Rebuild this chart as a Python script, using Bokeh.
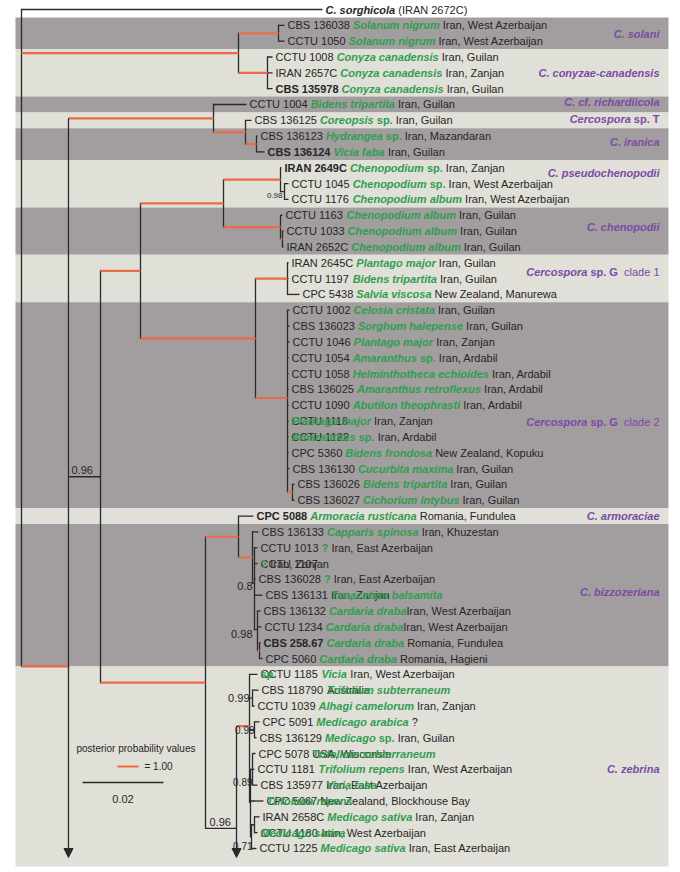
from bokeh.plotting import figure
from bokeh.models import Range1d, ColumnDataSource, Arrow, NormalHead
from bokeh.embed import file_html
from bokeh.resources import INLINE
from bokeh.core.properties import value

# ---------------- data ----------------
outgroup_name = "C. sorghicola"
outgroup_strain = "(IRAN 2672C)"

strains = ["CBS 136038", "CCTU 1050", "CCTU 1008", "IRAN 2657C", "CBS 135978", "CCTU 1004",
           "CBS 136125", "CBS 136123", "CBS 136124", "IRAN 2649C", "CCTU 1045", "CCTU 1176",
           "CCTU 1163", "CCTU 1033", "IRAN 2652C", "IRAN 2645C", "CCTU 1197", "CPC 5438",
           "CCTU 1002", "CBS 136023", "CCTU 1046", "CCTU 1054", "CCTU 1058", "CBS 136025",
           "CCTU 1090", "CCTU 1116", "CCTU 1122", "CPC 5360", "CBS 136130", "CBS 136026",
           "CBS 136027", "CPC 5088", "CBS 136133", "CCTU 1013", "CCTU 1107", "CBS 136028",
           "CBS 136131", "CBS 136132", "CCTU 1234", "CBS 258.67", "CPC 5060", "CCTU 1185",
           "CBS 118790", "CCTU 1039", "CPC 5091", "CBS 136129", "CPC 5078", "CCTU 1181",
           "CBS 135977", "CPC 5067", "IRAN 2658C", "CCTU 1180", "CCTU 1225"]
hosts = ["Solanum nigrum", "Solanum nigrum", "Conyza canadensis", "Conyza canadensis",
         "Conyza canadensis", "Bidens tripartita", "Coreopsis sp.", "Hydrangea sp.", "Vicia faba",
         "Chenopodium sp.", "Chenopodium sp.", "Chenopodium album", "Chenopodium album",
         "Chenopodium album", "Chenopodium album", "Plantago major", "Bidens tripartita",
         "Salvia viscosa", "Celosia cristata", "Sorghum halepense", "Plantago major",
         "Amaranthus sp.", "Helminthotheca echioides", "Amaranthus retroflexus",
         "Abutilon theophrasti", "Plantago major", "Amaranthus sp.", "Bidens frondosa",
         "Cucurbita maxima", "Bidens tripartita", "Cichorium intybus", "Armoracia rusticana",
         "Capparis spinosa", "?", "?", "?", "Tanacetum balsamita", "Cardaria draba",
         "Cardaria draba", "Cardaria draba", "Cardaria draba", "Vicia sp.",
         "Trifolium subterraneum", "Alhagi camelorum", "Medicago arabica", "Medicago sp.",
         "Trifolium subterraneum", "Trifolium repens", "Vicia faba", "Trifolium repens",
         "Medicago sativa", "Medicago sativa", "Medicago sativa"]
places = ["Iran, West Azerbaijan", "Iran, West Azerbaijan", "Iran, Guilan", "Iran, Zanjan",
          "Iran, Guilan", "Iran, Guilan", "Iran, Guilan", "Iran, Mazandaran", "Iran, Guilan",
          "Iran, Zanjan", "Iran, West Azerbaijan", "Iran, West Azerbaijan", "Iran, Guilan",
          "Iran, Guilan", "Iran, Guilan", "Iran, Guilan", "Iran, Guilan", "New Zealand, Manurewa",
          "Iran, Guilan", "Iran, Guilan", "Iran, Zanjan", "Iran, Ardabil", "Iran, Ardabil",
          "Iran, Ardabil", "Iran, Ardabil", "Iran, Zanjan", "Iran, Ardabil", "New Zealand, Kopuku",
          "Iran, Guilan", "Iran, Guilan", "Iran, Guilan", "Romania, Fundulea", "Iran, Khuzestan",
          "Iran, East Azerbaijan", "Iran, Zanjan", "Iran, East Azerbaijan", "Iran, Zanjan",
          "Iran, West Azerbaijan", "Iran, West Azerbaijan", "Romania, Fundulea",
          "Romania, Hagieni", "Iran, West Azerbaijan", "Australia", "Iran, Zanjan", "?",
          "Iran, Guilan", "USA, Wisconsin", "Iran, West Azerbaijan", "Iran, East Azerbaijan",
          "New Zealand, Blockhouse Bay", "Iran, Zanjan", "Iran, West Azerbaijan",
          "Iran, East Azerbaijan"]
bold_strains = ["CBS 135978", "CBS 136124", "IRAN 2649C", "CPC 5088", "CBS 258.67"]

# tip depths (substitutions/site) of row 0 (outgroup) .. row 53
tip_depth = [0.07432,
             0.06494, 0.06494, 0.06198, 0.06198, 0.06198, 0.05556, 0.05679, 0.05827, 0.06000,
             0.06420, 0.06593, 0.06593, 0.06444, 0.06469, 0.06469, 0.06593, 0.06593, 0.06864,
             0.06617, 0.06617, 0.06617, 0.06593, 0.06593, 0.06593, 0.06593, 0.06593, 0.06593,
             0.06593, 0.06617, 0.06741, 0.06741, 0.05728, 0.05852, 0.05827, 0.05827, 0.05778,
             0.05951, 0.05901, 0.05926, 0.05901, 0.05951, 0.05827, 0.05852, 0.05753, 0.05877,
             0.05802, 0.05778, 0.05753, 0.05827, 0.05975, 0.05877, 0.05827, 0.05802]

node_names = ["root", "SC", "SOL", "CON", "A", "B", "C", "D", "E", "F", "G", "H", "I", "J", "K",
              "L", "M", "N", "O", "P", "Q", "R", "S", "T", "U", "W", "X", "Y", "Z", "MZ", "Z2",
              "G2", "G2in"]
node_depth = [0.0, 0.05358, 0.06346, 0.06074, 0.01160, 0.04741, 0.05531, 0.05802, 0.01951,
              0.02938, 0.04988, 0.06395, 0.06494, 0.06395, 0.06444, 0.05778, 0.06568, 0.06568,
              0.06691, 0.04543, 0.05358, 0.05704, 0.05753, 0.05827, 0.05877, 0.05309, 0.05630,
              0.05704, 0.05753, 0.05654, 0.05704, 0.05679, 0.05753]
node_children = [[0, "SC", "A"], ["SOL", "CON"], [1, 2], [3, 4, 5], ["B", "E", "offA"],
                 [6, "C"], [7, "D"], [8, 9], ["F", "P"], ["G", "L"], ["H", "J"], [10, "I"],
                 [11, 12], [13, "K"], [14, 15], ["M", "N"], [16, 17, 18],
                 [19, 20, 21, 22, 23, 24, 25, 26, 27, 28, 29, "O"], [30, 31], ["Q", "W"],
                 [32, "R"], [33, "S"], [34, 35, 36, 37, "T"], [38, 39, "U"], [40, 41],
                 ["X", "offW"], [42, "Y", "Z", "MZ"], [43, 44], [45, 46], ["Z2", 50, "G2"],
                 [47, 48, 49], ["G2in", 53], [51, 52]]
# posterior probabilities of the clades (1.00 drawn in red)
posterior = {"SC": 1.0, "SOL": 1.0, "CON": 1.0, "A": 1.0, "B": 1.0, "C": 1.0, "D": 1.0,
             "E": 0.96, "F": 1.0, "G": 1.0, "H": 1.0, "I": 0.98, "J": 1.0, "K": 1.0, "L": 1.0,
             "M": 1.0, "N": 1.0, "O": 1.0, "P": 1.0, "Q": 1.0, "R": 1.0, "S": 0.8, "T": 0.98,
             "U": 1.0, "W": 0.96, "X": 1.0, "Y": 0.99, "Z": 0.99, "Z2": 0.89, "G2": 0.71}
# continuation of the tree below the page (rows off the picture)
offpage_rows = {"offA": 88.1, "offW": 58.2}

clade_names = ["C. solani", "C. conyzae-canadensis", "C. cf. richardiicola", "Cercospora sp. T",
               "C. iranica", "C. pseudochenopodii", "C. chenopodii", "Cercospora sp. G clade 1",
               "Cercospora sp. G clade 2", "C. armoraciae", "C. bizzozeriana", "C. zebrina"]
clade_first = [1, 3, 6, 7, 8, 10, 13, 16, 19, 32, 33, 42]
clade_last = [2, 5, 6, 7, 9, 12, 15, 18, 31, 32, 41, 53]
scale_length = 0.02
legend_pp = "= 1.00"

# ---------------- layout / style ----------------
PX = 4050.0      # px per substitution unit
ROW = 15.83      # px per row
ROOT_X = 21.0
TOP_Y = 9.0
def dx(px): return (px - ROOT_X) / PX
def ry(py): return (py - TOP_Y) / ROW

FONT = "Liberation Sans"
DARK = "#262626"
GREEN = "#2f9e4f"
PURPLE = "#7b4aa6"
RED = "#ec6a45"
LINE = "#2a2a2a"
BAND_DARK = "#a29d9e"
BAND_LIGHT = "#e0dfd8"

label_style = {26: "host_on_strain", 27: "host_on_strain", 35: "host_on_strain",
               37: "place_on_host", 38: "tight", 39: "tight", 42: "split_sp",
               43: "place_on_host", 47: "place_on_host", 49: "place_on_host",
               50: "host_on_strain2", 52: "host_on_strain2"}
clade_label_rows = [1.52, 3.98, 5.85, 6.89, 8.34, 10.3, 13.77, 16.6, 26.03, 32.0, 36.8, 47.95]
support_pos = {  # kind, dx px, dy px, font size
    "E": ("above", 3, -7, 11), "W": ("above", 4, -6, 11),
    "I": ("left", -2, 4, 8), "S": ("left", -2, 3, 11), "T": ("left", -5, 4, 11),
    "Y": ("left", -3, 0, 11), "Z": ("left", 0, 0, 10), "Z2": ("left", 0, 13, 10),
    "G2": ("left", 1, 9, 10)}

REG = dict(zip("abcdefghijklmnopqrstuvwxyz",
               [556, 556, 500, 556, 556, 278, 556, 556, 222, 222, 500, 222, 833, 556, 556, 556,
                556, 333, 500, 278, 556, 500, 722, 500, 500, 500]))
REG.update(zip("ABCDEFGHIJKLMNOPQRSTUVWXYZ",
               [667, 667, 722, 722, 667, 611, 778, 722, 278, 500, 667, 556, 833, 722, 778, 667,
                778, 722, 667, 611, 722, 667, 944, 667, 667, 611]))
REG.update({c: 556 for c in "0123456789"})
REG.update({" ": 278, ".": 278, ",": 278, "?": 556, "(": 333, ")": 333, "-": 333, "=": 584})
BLD = dict(zip("abcdefghijklmnopqrstuvwxyz",
               [556, 611, 556, 611, 556, 333, 611, 611, 278, 278, 556, 278, 889, 611, 611, 611,
                611, 389, 556, 333, 611, 556, 778, 556, 556, 500]))
BLD.update(zip("ABCDEFGHIJKLMNOPQRSTUVWXYZ",
               [722, 722, 722, 722, 667, 611, 778, 722, 278, 556, 722, 611, 833, 722, 778, 667,
                778, 722, 667, 611, 722, 667, 944, 667, 667, 611]))
BLD.update({c: 556 for c in "0123456789"})
BLD.update({" ": 278, ".": 278, ",": 278, "?": 611, "(": 333, ")": 333, "-": 333, "=": 584})

STYLES = {"n": (DARK, "normal"), "b": (DARK, "bold"), "bi": (DARK, "bold italic"),
          "gi": (GREEN, "bold italic"), "g": (GREEN, "bold"), "pi": (PURPLE, "bold italic"),
          "pb": (PURPLE, "bold"), "pn": (PURPLE, "normal")}

def tw(s, style="n", size=11):
    tab = REG if STYLES[style][1] == "normal" else BLD
    return sum(tab.get(c, 556) for c in s) * size / 1000.0

texts = {k: dict(x=[], y=[], text=[], size=[]) for k in STYLES}
def put(style, x, y, s, size=11):
    texts[style]["x"].append(x)
    texts[style]["y"].append(y)
    texts[style]["text"].append(s)
    texts[style]["size"].append("%gpx" % size)

# ---------------- tree geometry ----------------
nodes = {n: (d, c) for n, d, c in zip(node_names, node_depth, node_children)}
_yc = {}
def node_y(c):
    if isinstance(c, int):
        return float(c)
    if c in offpage_rows:
        return offpage_rows[c]
    if c not in _yc:
        ch = nodes[c][1]
        _yc[c] = sum(node_y(k) for k in ch) / len(ch)
    return _yc[c]
def depth_of(c):
    return tip_depth[c] if isinstance(c, int) else nodes[c][0]

ARROW_END = ry(857)
blk = dict(x0=[], y0=[], x1=[], y1=[])
red = dict(x0=[], y0=[], x1=[], y1=[])
arr = dict(x0=[], y0=[], x1=[], y1=[])
def seg(t, a, b, c, d):
    t["x0"].append(a); t["y0"].append(b); t["x1"].append(c); t["y1"].append(d)

for n in node_names:
    d, ch = nodes[n]
    vis = [c for c in ch if not (isinstance(c, str) and c in offpage_rows)]
    ys = [node_y(c) for c in vis]
    if len(vis) < len(ch):
        seg(arr, d, min(ys), d, ARROW_END)
    else:
        seg(blk, d, min(ys) - 0.04, d, max(ys) + 0.04)
    for c in vis:
        is_red = isinstance(c, str) and posterior.get(c, 0) >= 1.0
        seg(red if is_red else blk, d, node_y(c), depth_of(c), node_y(c))

# support labels
for n, (kind, ox, oy, fs) in support_pos.items():
    lab = ("%.2f" % posterior[n]).rstrip("0") if posterior[n] != 0.8 else "0.8"
    if kind == "above":
        parent = [p for p in node_names if n in nodes[p][1]][0]
        put("n", nodes[parent][0] + ox / PX, node_y(n) + oy / ROW, lab, fs)
    else:
        put("n", nodes[n][0] + (ox / PX) - tw(lab, "n", fs) / PX, node_y(n) + oy / ROW, lab, fs)

# ---------------- leaf labels ----------------
GAP = 3.0
sp_w = tw(" ")
put("bi", tip_depth[0] + GAP / PX, 0, outgroup_name)
put("n", tip_depth[0] + (GAP + tw(outgroup_name, "bi") + sp_w) / PX, 0, outgroup_strain)

for i, (st, ho, pl) in enumerate(zip(strains, hosts, places)):
    r = i + 1
    x0 = tip_depth[r] + GAP / PX
    sst = "b" if st in bold_strains else "n"
    mode = label_style.get(r, "std")
    if ho == "?":
        hparts = [("?", "g", 0.0)]
    elif ho.endswith(" sp."):
        g = ho[:-4]
        hparts = [(g, "gi", 0.0), ("sp.", "g", tw(g, "gi") + sp_w)]
    else:
        hparts = [(ho, "gi", 0.0)]
    hw = max(o + tw(t, s) for t, s, o in hparts)
    swd = tw(st, sst)
    put(sst, x0, r, st)
    if mode == "split_sp":
        g = ho[:-4]
        gx = swd + sp_w
        put("gi", x0 + gx / PX, r, g)
        put("g", x0, r, "sp.")
        put("n", x0 + (gx + tw(g, "gi") + sp_w) / PX, r, pl)
        continue
    if mode in ("host_on_strain", "host_on_strain2"):
        hx = 0.0
    else:
        hx = swd + sp_w
    for t, s, o in hparts:
        put(s, x0 + (hx + o) / PX, r, t)
    if mode == "place_on_host":
        px_ = hx
    elif mode == "tight":
        px_ = hx + hw
    elif mode == "host_on_strain2":
        px_ = swd + sp_w
    else:
        px_ = hx + hw + sp_w
    put("n", x0 + px_ / PX, r, pl)

# ---------------- clade bands & names ----------------
bands = dict(left=[], right=[], top=[], bottom=[], color=[])
for k, (f, l) in enumerate(zip(clade_first, clade_last)):
    bands["left"].append(dx(15))
    bands["right"].append(dx(668))
    bands["top"].append(f - 0.5)
    bands["bottom"].append(l + 0.5 if k < len(clade_first) - 1 else ry(866))
    bands["color"].append(BAND_DARK if k % 2 == 0 else BAND_LIGHT)

RIGHT = dx(659)
for name, row in zip(clade_names, clade_label_rows):
    if name.startswith("Cercospora"):
        rest = name[len("Cercospora"):]
        if "clade" in rest:
            a, b = rest.split(" clade")
            parts = [("Cercospora", "pi"), (a, "pb"), ("  clade" + b, "pn")]
        else:
            parts = [("Cercospora", "pi"), (rest, "pb")]
    else:
        parts = [(name, "pi")]
    total = sum(tw(t, s) for t, s in parts)
    cx = RIGHT - total / PX
    for t, s in parts:
        lead = len(t) - len(t.lstrip(" "))
        put(s, cx + tw(" " * lead, s) / PX, row, t.strip())
        cx += tw(t, s) / PX

# ---------------- legend / scale ----------------
put("n", dx(76), ry(748), "posterior probability values", 10)
seg(red, dx(117), ry(766), dx(138), ry(766))
put("n", dx(144), ry(766), legend_pp, 10)
sb0 = dx(82)
seg(blk, sb0, ry(782), sb0 + scale_length, ry(782))
put("n", sb0 + scale_length / 2 - tw("0.02") / 2 / PX, ry(798), "0.02")

# ---------------- figure ----------------
p = figure(width=680, height=872, x_range=Range1d(dx(0), dx(680)),
           y_range=Range1d(ry(872), ry(0)), output_backend="svg", toolbar_location=None,
           x_axis_type=None, y_axis_type=None, min_border=0)
p.outline_line_color = None
p.background_fill_color = "white"
p.border_fill_color = "white"

p.quad(left="left", right="right", top="top", bottom="bottom", color="color",
       source=ColumnDataSource(bands), line_color=None)
p.segment(x0="x0", y0="y0", x1="x1", y1="y1", source=ColumnDataSource(blk),
          line_color=LINE, line_width=1.3)
p.segment(x0="x0", y0="y0", x1="x1", y1="y1", source=ColumnDataSource(red),
          line_color=RED, line_width=2.2)
p.add_layout(Arrow(end=NormalHead(size=9, line_color=LINE, fill_color=LINE, line_width=1),
                   x_start="x0", y_start="y0", x_end="x1", y_end="y1",
                   source=ColumnDataSource(arr), line_color=LINE, line_width=1.3))

for k, (col, fst) in STYLES.items():
    if not texts[k]["x"]:
        continue
    p.text(x="x", y="y", text="text", source=ColumnDataSource(texts[k]),
           text_font=value(FONT), text_font_size="size", text_font_style=fst,
           text_color=col, text_align="left", text_baseline="middle")

open("out.html", "w").write(file_html(p, INLINE))
